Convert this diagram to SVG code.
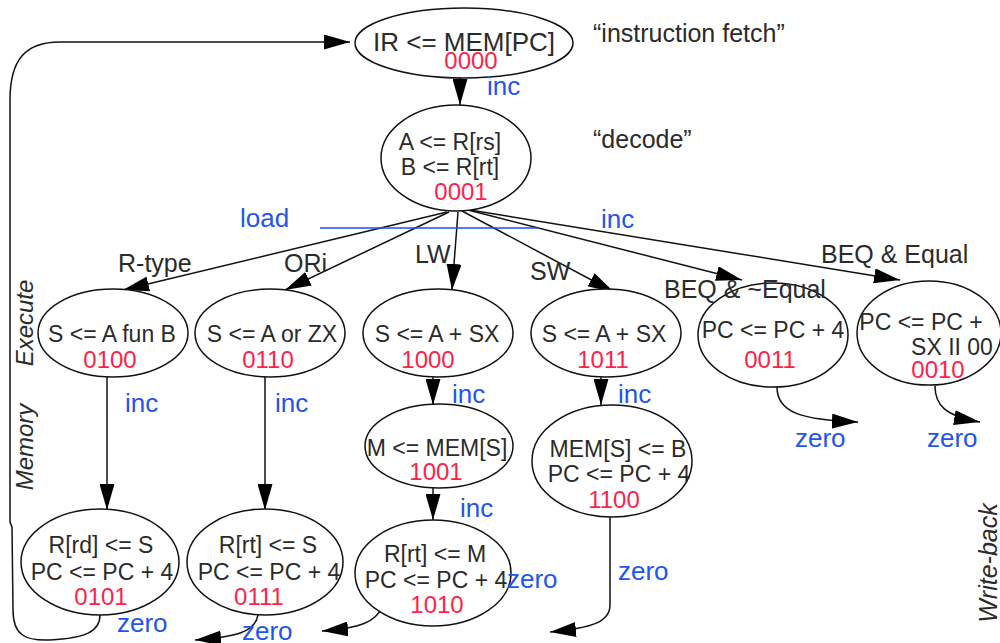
<svg xmlns="http://www.w3.org/2000/svg" width="1000" height="643" viewBox="0 0 1000 643">
<defs>
<style>
.n{fill:#fff;stroke:#111;stroke-width:1.5}
.t{font-family:"Liberation Sans",Arial,sans-serif;font-size:23px;fill:#2b2b2b;text-anchor:middle}
.big{font-size:26px}
.r{font-family:"Liberation Sans",Arial,sans-serif;font-size:24px;fill:#ff1f4b;text-anchor:middle}
.b{font-family:"Liberation Sans",Arial,sans-serif;font-size:26px;fill:#2255ee}
.l{font-family:"Liberation Sans",Arial,sans-serif;font-size:25px;fill:#2b2b2b}
.s{font-family:"Liberation Sans",Arial,sans-serif;font-size:24px;fill:#2b2b2b;font-style:italic;text-anchor:middle}
.c{fill:none;stroke:#111;stroke-width:1.5}
</style>
<marker id="ah" markerWidth="26" markerHeight="15" refX="26" refY="7.5" orient="auto" markerUnits="userSpaceOnUse">
<path d="M0,0 L26,7.5 L0,15 z" fill="#000"/>
</marker>
</defs>
<rect width="1000" height="643" fill="#fff"/>

<g id="connectors">
<path class="c" d="M460,78 L460,105" marker-end="url(#ah)"/>
<path class="c" d="M447,212 L123,290" marker-end="url(#ah)"/>
<path class="c" d="M449,212 L285,290" marker-end="url(#ah)"/>
<path class="c" d="M458,212 L452,290" marker-end="url(#ah)"/>
<path class="c" d="M462,211 L614,292" marker-end="url(#ah)"/>
<path class="c" d="M468,210 L742,280" marker-end="url(#ah)"/>
<path class="c" d="M470,210 L900,280" marker-end="url(#ah)"/>
<path class="c" d="M107,377 L107,510" marker-end="url(#ah)"/>
<path class="c" d="M265,377 L265,510" marker-end="url(#ah)"/>
<path class="c" d="M433,377 L433,405" marker-end="url(#ah)"/>
<path class="c" d="M601,377 L601,405" marker-end="url(#ah)"/>
<path class="c" d="M433,488 L433,520" marker-end="url(#ah)"/>
<path class="c" d="M777,387 C777,412 800,420 858,422" marker-end="url(#ah)"/>
<path class="c" d="M935,386 C935,405 945,416 980,422" marker-end="url(#ah)"/>
<path class="c" d="M610,517 L610,605 C610,622 592,628 550,632" marker-end="url(#ah)"/>
<path class="c" d="M382,607 C376,622 360,628 322,631" marker-end="url(#ah)"/>
<path class="c" d="M258,615 C255,632 236,637 195,640" marker-end="url(#ah)"/>
<path class="c" d="M100,615 C100,632 85,638 50,640 C25,641 13,635 13,610 L12,527 L10,522 L10,100 C10,60 25,42 60,42 L350,42" marker-end="url(#ah)"/>
<line x1="320" y1="228" x2="537" y2="228" stroke="#1a4cff" stroke-width="1.5"/>
</g>

<g id="phase-labels">
<text class="l" x="593" y="42" style="font-size:25px">“instruction fetch”</text>
<text class="l" x="593" y="148" style="font-size:25px">“decode”</text>
<text class="s" transform="translate(33,323) rotate(-90)">Execute</text>
<text class="s" transform="translate(33,447) rotate(-90)">Memory</text>
<text class="s" transform="translate(997,563) rotate(-90)" style="font-size:25px">Write-back</text>
</g>

<g id="s0000">
<ellipse class="n" cx="464" cy="43" rx="109" ry="35"/>
<text class="t big" x="464" y="51">IR &lt;= MEM[PC]</text>
<text class="r" x="471" y="69">0000</text>
</g>
<g id="s0001">
<ellipse class="n" cx="456" cy="158" rx="75" ry="53"/>
<text class="t" x="450" y="150">A &lt;= R[rs]</text>
<text class="t" x="450" y="175">B &lt;= R[rt]</text>
<text class="r" x="461" y="200">0001</text>
</g>
<g id="s0100">
<ellipse class="n" cx="113" cy="333" rx="75" ry="44"/>
<text class="t" x="112" y="342">S &lt;= A fun B</text>
<text class="r" x="110" y="368">0100</text>
</g>
<g id="s0110">
<ellipse class="n" cx="270" cy="333" rx="75" ry="44"/>
<text class="t" x="272" y="342">S &lt;= A or ZX</text>
<text class="r" x="268" y="368">0110</text>
</g>
<g id="s1000">
<ellipse class="n" cx="438" cy="333" rx="75" ry="44"/>
<text class="t" x="437" y="342">S &lt;= A + SX</text>
<text class="r" x="428" y="368">1000</text>
</g>
<g id="s1011">
<ellipse class="n" cx="606" cy="333" rx="75" ry="44"/>
<text class="t" x="604" y="342">S &lt;= A + SX</text>
<text class="r" x="603" y="368">1011</text>
</g>
<g id="s0011">
<ellipse class="n" cx="773" cy="335" rx="75" ry="52"/>
<text class="t" x="773" y="338">PC &lt;= PC + 4</text>
<text class="r" x="770" y="368">0011</text>
</g>
<g id="s0010">
<ellipse class="n" cx="929" cy="333" rx="72" ry="52"/>
<text class="t" x="921" y="330">PC &lt;= PC +</text>
<text class="t" x="952" y="355">SX II 00</text>
<text class="r" x="938" y="378">0010</text>
</g>
<g id="s1001">
<ellipse class="n" cx="439" cy="446" rx="74" ry="42"/>
<text class="t" x="437" y="456">M &lt;= MEM[S]</text>
<text class="r" x="436" y="480">1001</text>
</g>
<g id="s1100">
<ellipse class="n" cx="612" cy="461" rx="80" ry="56"/>
<text class="t" x="618" y="457">MEM[S] &lt;= B</text>
<text class="t" x="619" y="482">PC &lt;= PC + 4</text>
<text class="r" x="614" y="508">1100</text>
</g>
<g id="s0101">
<ellipse class="n" cx="100" cy="562" rx="79" ry="53"/>
<text class="t" x="101" y="553">R[rd] &lt;= S</text>
<text class="t" x="102" y="580">PC &lt;= PC + 4</text>
<text class="r" x="101" y="605">0101</text>
</g>
<g id="s0111">
<ellipse class="n" cx="265" cy="562" rx="78" ry="53"/>
<text class="t" x="268" y="553">R[rt] &lt;= S</text>
<text class="t" x="269" y="580">PC &lt;= PC + 4</text>
<text class="r" x="259" y="605">0111</text>
</g>
<g id="s1010">
<ellipse class="n" cx="433" cy="573" rx="78" ry="53"/>
<text class="t" x="435" y="562">R[rt] &lt;= M</text>
<text class="t" x="436" y="588">PC &lt;= PC + 4</text>
<text class="r" x="437" y="613">1010</text>
</g>

<g id="edge-labels">
<text class="b" x="487" y="95">inc</text>
<text class="b" x="240" y="227">load</text>
<text class="b" x="601" y="228">inc</text>
<text class="l" x="118" y="272">R-type</text>
<text class="l" x="284" y="272">ORi</text>
<text class="l" x="415" y="263">LW</text>
<text class="l" x="530" y="280">SW</text>
<text class="l" x="664" y="298">BEQ &amp; ~Equal</text>
<text class="l" x="821" y="263">BEQ &amp; Equal</text>
<text class="b" x="125" y="412">inc</text>
<text class="b" x="275" y="412">inc</text>
<text class="b" x="452" y="403">inc</text>
<text class="b" x="618" y="403">inc</text>
<text class="b" x="460" y="517">inc</text>
<text class="b" x="795" y="447">zero</text>
<text class="b" x="927" y="447">zero</text>
<text class="b" x="618" y="580">zero</text>
<text class="b" x="507" y="588">zero</text>
<text class="b" x="242" y="640">zero</text>
<text class="b" x="117" y="632">zero</text>
</g>
</svg>
